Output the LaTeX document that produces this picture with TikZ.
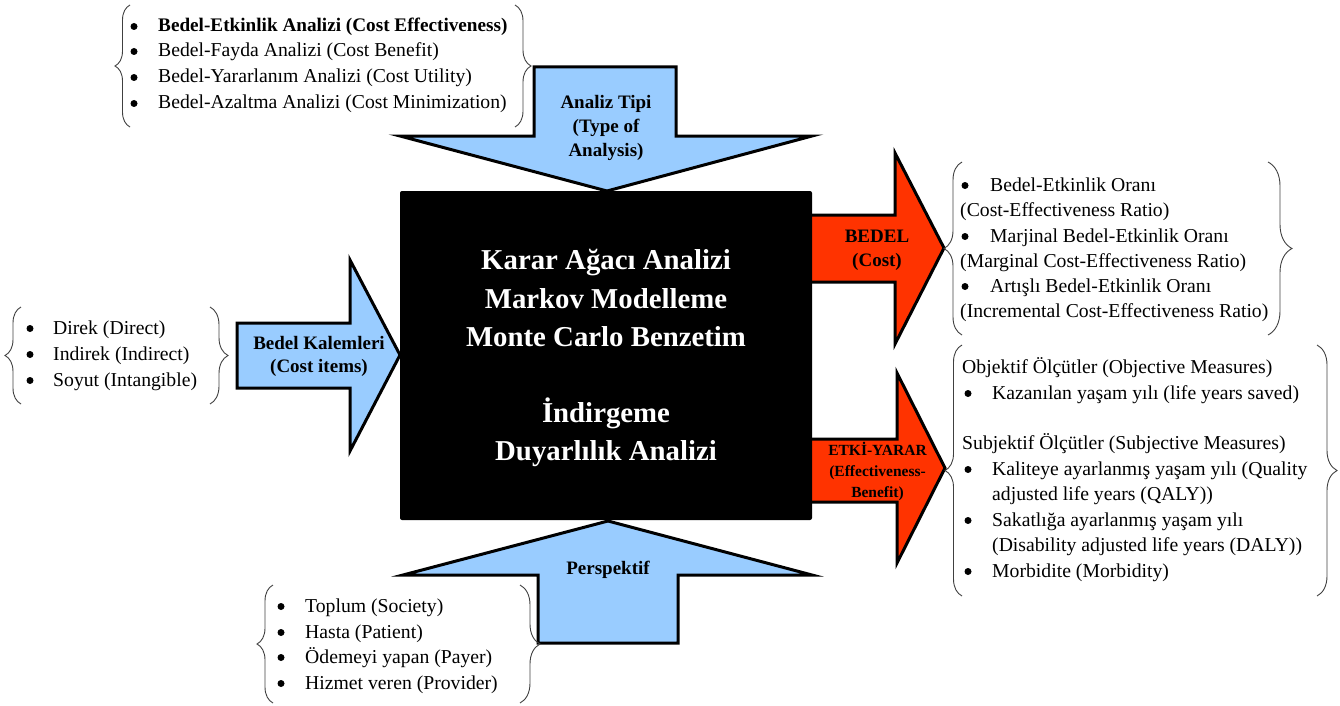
\documentclass[tikz,border=0pt]{standalone}
\usepackage{fontspec}
\setmainfont{Liberation Serif}
\usetikzlibrary{decorations.pathreplacing}
\definecolor{inblue}{HTML}{99CCFF}
\definecolor{outred}{HTML}{FF3300}
\definecolor{bracegray}{HTML}{404040}
\tikzset{
  txt/.style={anchor=base west, inner sep=0pt, font=\fontsize{19.7}{25}\selectfont},
  bul/.style={circle, fill=black, inner sep=0pt, minimum size=7pt, yshift=5.5pt},
  lbl/.style={anchor=base, inner sep=0pt, font=\bfseries\fontsize{19}{23}\selectfont},
  smalllbl/.style={anchor=base, inner sep=0pt, font=\bfseries\fontsize{15.5}{20}\selectfont},
  core/.style={anchor=base, inner sep=0pt, text=white, font=\bfseries\fontsize{28.8}{38}\selectfont},
  inarrow/.style={fill=inblue, draw=black, line width=3pt, line join=miter},
  outarrow/.style={fill=outred, draw=black, line width=3pt, line join=miter},
  brc/.style={draw=bracegray, line width=0.9pt, decorate,
              decoration={brace, amplitude=#1, aspect=0.5}},
}
\begin{document}
\begin{tikzpicture}[x=1pt, y=-1pt]
\useasboundingbox (0,0) rectangle (1340,706);

% ---- block arrows ----
% analysis type (down)
\draw[inarrow] (534,67) -- (676,67) -- (676,136) -- (812,136) -- (607,191)
  -- (400,136) -- (534,136) -- cycle;
% perspective (up)
\draw[inarrow] (608,521) -- (812,575) -- (678,575) -- (678,643) -- (538,643)
  -- (538,575) -- (403,575) -- cycle;
% cost items (right)
\draw[inarrow] (237,323) -- (350,323) -- (350,260) -- (400,355) -- (350,451)
  -- (350,388) -- (237,388) -- cycle;
% cost output
\draw[outarrow] (800,215) -- (895,215) -- (895,153) -- (944,248) -- (895,344)
  -- (895,282) -- (800,282) -- cycle;
% effectiveness output
\draw[outarrow] (800,439) -- (897,439) -- (897,373) -- (945,468) -- (897,563)
  -- (897,502) -- (800,502) -- cycle;

% ---- central block ----
\fill[black, rounded corners=2pt] (400,191) rectangle (812,520);
\node[core] (m1) at (606,269) {Karar Ağacı Analizi};
\node[core] (m2) at (606,308) {Markov Modelleme};
\node[core] (m3) at (606,346) {Monte Carlo Benzetim};
\node[core] (m4) at (606,422) {İndirgeme};
\node[core] (m5) at (606,460) {Duyarlılık Analizi};

% ---- arrow labels ----
\node[lbl] (a1) at (606,109) {Analiz Tipi};
\node[lbl] (a2) at (606,132.5) {(Type of};
\node[lbl] (a3) at (606,156) {Analysis)};
\node[lbl] (k1) at (319,349) {Bedel Kalemleri};
\node[lbl] (k2) at (319,372) {(Cost items)};
\node[lbl] (b1) at (877,242) {BEDEL};
\node[lbl] (b2) at (877,266) {(Cost)};
\node[smalllbl] (e1) at (877.5,455) {ETKİ-YARAR};
\node[smalllbl] (e2) at (877.5,476) {(Effectiveness-};
\node[smalllbl] (e3) at (877.5,497) {Benefit)};
\node[lbl] (p1) at (608,574) {Perspektif};

% ---- analysis types ----
\draw[brc=15] (130,127) -- (130,5);
\draw[brc=16] (515,5) -- (515,127);
\node[bul] (tb1) at (134,32) {};
\node[bul] (tb2) at (134,57) {};
\node[bul] (tb3) at (134,83) {};
\node[bul] (tb4) at (134,109) {};
\node[txt, font=\bfseries\fontsize{19.2}{25}\selectfont] (t1) at (158,32) {Bedel-Etkinlik Analizi (Cost Effectiveness)};
\node[txt] (t2) at (158,57) {Bedel-Fayda Analizi (Cost Benefit)};
\node[txt] (t3) at (158,83) {Bedel-Yararlanım Analizi (Cost Utility)};
\node[txt] (t4) at (158,109) {Bedel-Azaltma Analizi (Cost Minimization)};

% ---- cost items ----
\draw[brc=16] (21,404) -- (21,307);
\draw[brc=18] (210,307) -- (210,404);
\node[bul] (lb1) at (30,334) {};
\node[bul] (lb2) at (30,360) {};
\node[bul] (lb3) at (30,386) {};
\node[txt] (l1) at (53,334) {Direk (Direct)};
\node[txt] (l2) at (53,360) {Indirek (Indirect)};
\node[txt] (l3) at (53,386) {Soyut (Intangible)};

% ---- cost ratios ----
\draw[brc=18] (962,335) -- (962,162);
\draw[brc=24] (1268,162) -- (1268,335);
\node[bul] (rb1) at (965,191) {};
\node[bul] (rb2) at (965,242) {};
\node[bul] (rb3) at (965,292) {};
\node[txt] (r1) at (990,191) {Bedel-Etkinlik Oranı};
\node[txt] (r2) at (960,216) {(Cost-Effectiveness Ratio)};
\node[txt] (r3) at (990,242) {Marjinal Bedel-Etkinlik Oranı};
\node[txt] (r4) at (960,267) {(Marginal Cost-Effectiveness Ratio)};
\node[txt] (r5) at (990,292) {Artışlı Bedel-Etkinlik Oranı};
\node[txt] (r6) at (960,317) {(Incremental Cost-Effectiveness Ratio)};

% ---- effectiveness measures ----
\draw[brc=17] (962,596) -- (962,345);
\draw[brc=20] (1317,345) -- (1317,596);
\node[txt] (s1) at (962,373) {Objektif Ölçütler (Objective Measures)};
\node[bul] (sb2) at (968,399) {};
\node[txt] (s2) at (992,399) {Kazanılan yaşam yılı (life years saved)};
\node[txt] (s3) at (962,449.5) {Subjektif Ölçütler (Subjective Measures)};
\node[bul] (sb4) at (968,475) {};
\node[txt] (s4) at (992,475) {Kaliteye ayarlanmış yaşam yılı (Quality};
\node[txt] (s5) at (992,500.5) {adjusted life years (QALY))};
\node[bul] (sb6) at (968,526) {};
\node[txt] (s6) at (992,526) {Sakatlığa ayarlanmış yaşam yılı};
\node[txt] (s7) at (992,551.5) {(Disability adjusted life years (DALY))};
\node[bul] (sb8) at (968,577) {};
\node[txt] (s8) at (992,577) {Morbidite (Morbidity)};

% ---- perspectives ----
\draw[brc=16] (273,703) -- (273,585);
\draw[brc=20] (520,585) -- (520,703);
\node[bul] (pb1) at (281,612) {};
\node[bul] (pb2) at (281,638) {};
\node[bul] (pb3) at (281,663) {};
\node[bul] (pb4) at (281,689) {};
\node[txt] (q1) at (305,612) {Toplum (Society)};
\node[txt] (q2) at (305,638) {Hasta (Patient)};
\node[txt] (q3) at (305,663) {Ödemeyi yapan (Payer)};
\node[txt] (q4) at (305,689) {Hizmet veren (Provider)};
\end{tikzpicture}
\end{document}
